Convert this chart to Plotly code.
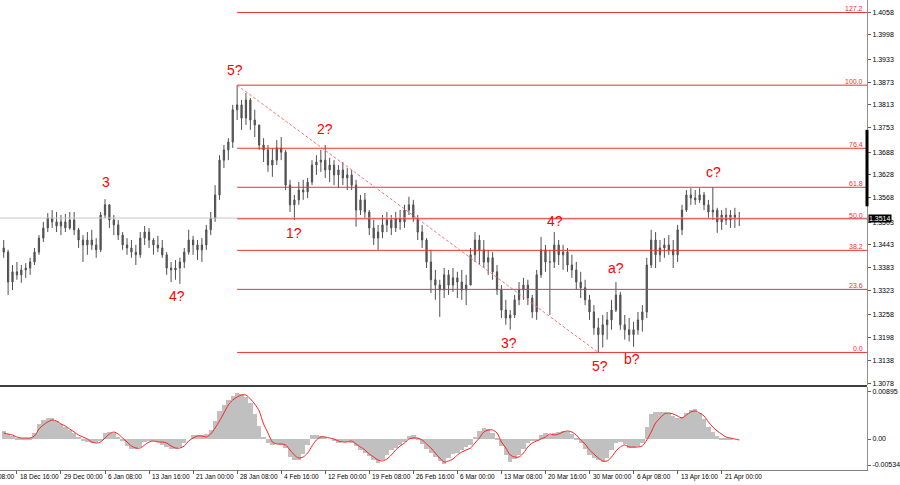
import plotly.graph_objects as go

# ---------------- data ----------------
bar_index = list(range(7, 175))
first_open = 1.3435
high = [
    1.3456, 1.3430, 1.3390, 1.3398, 1.3390, 1.3395, 1.3409, 1.3435, 1.3469, 1.3504,
    1.3527, 1.3535, 1.3530, 1.3522, 1.3525, 1.3530, 1.3530, 1.3488, 1.3469, 1.3477,
    1.3483, 1.3461, 1.3530, 1.3564, 1.3551, 1.3522, 1.3509, 1.3477, 1.3461, 1.3456,
    1.3443, 1.3477, 1.3493, 1.3488, 1.3461, 1.3467, 1.3456, 1.3424, 1.3398, 1.3403,
    1.3409, 1.3435, 1.3483, 1.3467, 1.3456, 1.3461, 1.3496, 1.3530, 1.3601, 1.3680,
    1.3707, 1.3725, 1.3813, 1.3865, 1.3826, 1.3844, 1.3831, 1.3800, 1.3760, 1.3725,
    1.3707, 1.3699, 1.3720, 1.3728, 1.3694, 1.3615, 1.3575, 1.3609, 1.3615, 1.3620,
    1.3667, 1.3680, 1.3694, 1.3707, 1.3673, 1.3667, 1.3654, 1.3662, 1.3646, 1.3641,
    1.3615, 1.3575, 1.3580, 1.3535, 1.3509, 1.3496, 1.3522, 1.3530, 1.3522, 1.3530,
    1.3535, 1.3549, 1.3570, 1.3562, 1.3522, 1.3496, 1.3461, 1.3430, 1.3377, 1.3351,
    1.3382, 1.3377, 1.3382, 1.3372, 1.3377, 1.3364, 1.3435, 1.3477, 1.3469, 1.3456,
    1.3430, 1.3424, 1.3390, 1.3337, 1.3298, 1.3271, 1.3311, 1.3345, 1.3356, 1.3351,
    1.3311, 1.3377, 1.3464, 1.3443, 1.3430, 1.3477, 1.3456, 1.3443, 1.3435, 1.3417,
    1.3398, 1.3372, 1.3351, 1.3311, 1.3284, 1.3250, 1.3258, 1.3266, 1.3298, 1.3345,
    1.3319, 1.3258, 1.3250, 1.3240, 1.3266, 1.3284, 1.3409, 1.3483, 1.3477, 1.3456,
    1.3461, 1.3469, 1.3456, 1.3496, 1.3549, 1.3588, 1.3593, 1.3588, 1.3593, 1.3583,
    1.3562, 1.3596, 1.3541, 1.3535, 1.3541, 1.3535, 1.3541, 1.3530,
]
low = [
    1.3409, 1.3311, 1.3324, 1.3351, 1.3343, 1.3356, 1.3364, 1.3390, 1.3417, 1.3451,
    1.3477, 1.3488, 1.3477, 1.3469, 1.3477, 1.3483, 1.3469, 1.3435, 1.3398, 1.3417,
    1.3430, 1.3409, 1.3424, 1.3514, 1.3488, 1.3469, 1.3456, 1.3430, 1.3417, 1.3409,
    1.3390, 1.3409, 1.3443, 1.3435, 1.3417, 1.3424, 1.3409, 1.3364, 1.3345, 1.3351,
    1.3340, 1.3382, 1.3417, 1.3417, 1.3403, 1.3398, 1.3430, 1.3469, 1.3504, 1.3562,
    1.3646, 1.3667, 1.3699, 1.3773, 1.3747, 1.3760, 1.3747, 1.3728, 1.3694, 1.3662,
    1.3636, 1.3623, 1.3654, 1.3667, 1.3588, 1.3530, 1.3509, 1.3549, 1.3562, 1.3567,
    1.3601, 1.3628, 1.3636, 1.3620, 1.3609, 1.3601, 1.3593, 1.3601, 1.3588, 1.3588,
    1.3491, 1.3522, 1.3514, 1.3469, 1.3443, 1.3430, 1.3461, 1.3477, 1.3469, 1.3477,
    1.3483, 1.3488, 1.3522, 1.3504, 1.3456, 1.3435, 1.3382, 1.3316, 1.3298, 1.3253,
    1.3303, 1.3311, 1.3319, 1.3303, 1.3298, 1.3284, 1.3337, 1.3398, 1.3390, 1.3382,
    1.3364, 1.3351, 1.3311, 1.3250, 1.3232, 1.3219, 1.3250, 1.3284, 1.3298, 1.3284,
    1.3250, 1.3245, 1.3356, 1.3372, 1.3258, 1.3382, 1.3390, 1.3377, 1.3372, 1.3356,
    1.3324, 1.3303, 1.3284, 1.3245, 1.3206, 1.3159, 1.3172, 1.3193, 1.3219, 1.3266,
    1.3219, 1.3193, 1.3188, 1.3174, 1.3206, 1.3214, 1.3250, 1.3382, 1.3382, 1.3398,
    1.3409, 1.3417, 1.3382, 1.3398, 1.3469, 1.3530, 1.3549, 1.3549, 1.3554, 1.3535,
    1.3514, 1.3509, 1.3475, 1.3483, 1.3496, 1.3488, 1.3488, 1.3493,
]
close = [
    1.3424, 1.3345, 1.3372, 1.3364, 1.3377, 1.3382, 1.3398, 1.3424, 1.3461, 1.3488,
    1.3514, 1.3504, 1.3493, 1.3504, 1.3488, 1.3509, 1.3483, 1.3456, 1.3443, 1.3456,
    1.3443, 1.3430, 1.3522, 1.3549, 1.3509, 1.3496, 1.3469, 1.3443, 1.3435, 1.3424,
    1.3417, 1.3461, 1.3477, 1.3456, 1.3443, 1.3435, 1.3417, 1.3382, 1.3377, 1.3382,
    1.3398, 1.3424, 1.3456, 1.3443, 1.3430, 1.3443, 1.3483, 1.3514, 1.3575, 1.3667,
    1.3694, 1.3715, 1.3800, 1.3813, 1.3778, 1.3826, 1.3773, 1.3760, 1.3707, 1.3694,
    1.3654, 1.3667, 1.3699, 1.3688, 1.3601, 1.3549, 1.3562, 1.3588, 1.3583, 1.3609,
    1.3654, 1.3662, 1.3667, 1.3641, 1.3654, 1.3628, 1.3641, 1.3620, 1.3628, 1.3601,
    1.3535, 1.3562, 1.3530, 1.3488, 1.3461, 1.3477, 1.3496, 1.3509, 1.3488, 1.3514,
    1.3504, 1.3535, 1.3549, 1.3514, 1.3477, 1.3456, 1.3398, 1.3351, 1.3337, 1.3324,
    1.3364, 1.3337, 1.3356, 1.3345, 1.3324, 1.3337, 1.3417, 1.3456, 1.3430, 1.3398,
    1.3409, 1.3372, 1.3324, 1.3271, 1.3250, 1.3258, 1.3298, 1.3324, 1.3337, 1.3303,
    1.3266, 1.3364, 1.3430, 1.3398, 1.3398, 1.3443, 1.3417, 1.3424, 1.3390, 1.3377,
    1.3345, 1.3330, 1.3298, 1.3266, 1.3224, 1.3206, 1.3232, 1.3245, 1.3271, 1.3311,
    1.3232, 1.3219, 1.3206, 1.3219, 1.3245, 1.3266, 1.3390, 1.3456, 1.3417, 1.3435,
    1.3443, 1.3430, 1.3417, 1.3483, 1.3535, 1.3575, 1.3567, 1.3562, 1.3575, 1.3549,
    1.3530, 1.3535, 1.3504, 1.3522, 1.3509, 1.3522, 1.3514, 1.3514,
]
macd_hist = [
    0.00152, 0.00095, 0.00057, 0.00019, 0.00019, 0.00019, 0.00019, 0.00114, 0.00286, 0.00362,
    0.00400, 0.00400, 0.00343, 0.00286, 0.00228, 0.00171, 0.00114, 0.00038, -0.00019, -0.00057,
    -0.00076, -0.00057, -0.00019, 0.00114, 0.00133, 0.00114, 0.00038, -0.00038, -0.00133, -0.00190,
    -0.00190, -0.00152, -0.00057, -0.00019, -0.00038, -0.00057, -0.00114, -0.00152, -0.00190, -0.00190,
    -0.00152, -0.00076, 0.0, 0.00076, 0.00076, 0.00076, 0.00095, 0.00171, 0.00343, 0.00533,
    0.00647, 0.00743, 0.00819, 0.00876, 0.00857, 0.00800, 0.00685, 0.00476, 0.00248, 0.00038,
    -0.00076, -0.00114, -0.00095, -0.00114, -0.00171, -0.00343, -0.00400, -0.00400, -0.00286, -0.00114,
    0.00076, 0.00076, 0.00057, 0.00038, 0.0, -0.00038, -0.00076, -0.00057, -0.00057, -0.00076,
    -0.00133, -0.00209, -0.00267, -0.00324, -0.00400, -0.00457, -0.00400, -0.00305, -0.00209, -0.00171,
    -0.00114, -0.00057, 0.00057, 0.00076, 0.00019, -0.00095, -0.00190, -0.00267, -0.00343, -0.00419,
    -0.00476, -0.00362, -0.00286, -0.00267, -0.00209, -0.00152, -0.00114, 0.00038, 0.00152, 0.00209,
    0.00190, 0.00114, 0.00019, -0.00133, -0.00305, -0.00438, -0.00381, -0.00305, -0.00190, -0.00076,
    -0.00019, -0.00019, 0.00076, 0.00114, 0.00076, 0.00114, 0.00133, 0.00152, 0.00133, 0.00095,
    0.00019, -0.00076, -0.00190, -0.00305, -0.00362, -0.00400, -0.00438, -0.00362, -0.00209, -0.00076,
    -0.00057, -0.00095, -0.00171, -0.00171, -0.00133, -0.00076, 0.00228, 0.00476, 0.00514, 0.00514,
    0.00514, 0.00495, 0.00438, 0.00400, 0.00419, 0.00495, 0.00552, 0.00571, 0.00495, 0.00381,
    0.00228, 0.00133, 0.00057, 0.00019, 0.00019, 0.00019, 0.0, 0.0,
]
macd_signal = [
    0.00114, 0.00095, 0.00076, 0.00038, 0.00019, 0.00019, 0.00019, 0.00057, 0.00190, 0.00267,
    0.00324, 0.00362, 0.00343, 0.00286, 0.00248, 0.00190, 0.00133, 0.00076, 0.00038, 0.0,
    -0.00057, -0.00076, -0.00057, 0.00019, 0.00095, 0.00133, 0.00095, 0.00019, -0.00057, -0.00133,
    -0.00171, -0.00171, -0.00114, -0.00057, -0.00038, -0.00057, -0.00057, -0.00076, -0.00133, -0.00171,
    -0.00171, -0.00133, -0.00038, 0.00019, 0.00057, 0.00057, 0.00038, 0.00095, 0.00209, 0.00343,
    0.00495, 0.00647, 0.00743, 0.00800, 0.00838, 0.00838, 0.00762, 0.00666, 0.00533, 0.00286,
    0.00114, -0.00057, -0.00095, -0.00095, -0.00114, -0.00209, -0.00305, -0.00362, -0.00343, -0.00267,
    -0.00133, -0.00019, 0.00038, 0.00038, 0.00019, 0.0, -0.00038, -0.00057, -0.00057, -0.00038,
    -0.00095, -0.00152, -0.00209, -0.00286, -0.00343, -0.00400, -0.00419, -0.00381, -0.00305, -0.00209,
    -0.00133, -0.00076, 0.0, 0.00019, 0.00019, -0.00019, -0.00095, -0.00171, -0.00267, -0.00362,
    -0.00438, -0.00419, -0.00381, -0.00305, -0.00248, -0.00209, -0.00171, -0.00076, 0.00019, 0.00133,
    0.00171, 0.00171, 0.00114, -0.00057, -0.00171, -0.00305, -0.00343, -0.00343, -0.00267, -0.00152,
    -0.00076, -0.00038, 0.0, 0.00038, 0.00095, 0.00076, 0.00095, 0.00133, 0.00152, 0.00133,
    0.00076, -0.00019, -0.00095, -0.00209, -0.00286, -0.00362, -0.00419, -0.00419, -0.00343, -0.00228,
    -0.00152, -0.00114, -0.00152, -0.00152, -0.00152, -0.00133, -0.00019, 0.00133, 0.00305, 0.00400,
    0.00476, 0.00495, 0.00476, 0.00438, 0.00400, 0.00457, 0.00514, 0.00533, 0.00495, 0.00438,
    0.00324, 0.00228, 0.00152, 0.00095, 0.00038, 0.00019, 0.0, -0.00019,
]

fib_high = 1.3865
fib_low = 1.3159
fib_start_bar = 60
fib_end_bar = 142
fib_levels = [0.0, 23.6, 38.2, 50.0, 61.8, 76.4, 100.0, 127.2]
current_price = 1.3514

price_ticks = [1.4058, 1.3998, 1.3933, 1.3873, 1.3813, 1.3753, 1.3688, 1.3628, 1.3568,
               1.3503, 1.3443, 1.3383, 1.3323, 1.3258, 1.3198, 1.3138, 1.3078]
osc_ticks = [0.00895, 0.0, -0.00495]
osc_tick_text = ["0.00895", "0.00", "-0.00534"]

date_tick_bars = [0, 10, 20, 30, 40, 50, 60, 70, 80, 90, 100, 110, 120, 130, 140, 150, 160, 170]
date_tick_labels = ["11 Dec 08:00", "18 Dec 16:00", "29 Dec 00:00", "6 Jan 08:00", "13 Jan 16:00",
                    "21 Jan 00:00", "28 Jan 08:00", "4 Feb 16:00", "12 Feb 00:00", "19 Feb 08:00",
                    "26 Feb 16:00", "6 Mar 00:00", "13 Mar 08:00", "20 Mar 16:00", "30 Mar 00:00",
                    "6 Apr 08:00", "13 Apr 16:00", "21 Apr 00:00"]

wave_texts = ["3", "4?", "5?", "1?", "2?", "3?", "4?", "5?", "a?", "b?", "c?"]
wave_bars = [30.3, 46.3, 59.4, 73.0, 80.0, 121.7, 132.1, 142.3, 146.1, 149.7, 168.2]
wave_prices = [1.3609, 1.3308, 1.3905, 1.3475, 1.3749, 1.3184, 1.3506, 1.3124, 1.3382, 1.3142, 1.3636]

# ---------------- figure ----------------
x_min, x_max = 6.16, 203.0
main_range = [1.3073, 1.4090]
osc_range = [-0.0059, 0.0099]
FONT = "Liberation Sans"
RED = "#f03030"

open_ = [first_open] + close[:-1]

fig = go.Figure()

# current price (bid) line
fig.add_trace(go.Scatter(x=[x_min, x_max], y=[current_price, current_price], mode="lines",
                         line=dict(color="#c8c8c8", width=1), hoverinfo="skip", showlegend=False))

# fibonacci levels
for lvl in fib_levels:
    p = fib_low + (fib_high - fib_low) * lvl / 100.0
    fig.add_trace(go.Scatter(x=[fib_start_bar, x_max], y=[p, p], mode="lines",
                             line=dict(color=RED, width=1), hoverinfo="skip", showlegend=False))

# trend line
fig.add_trace(go.Scatter(x=[fib_start_bar, fib_end_bar], y=[fib_high, fib_low], mode="lines",
                         line=dict(color="#ff7070", width=1, dash="3px,2px"),
                         hoverinfo="skip", showlegend=False))

# candles
fig.add_trace(go.Candlestick(
    x=bar_index, open=open_, high=high, low=low, close=close,
    increasing=dict(line=dict(color="#505050", width=1), fillcolor="#5a5a5a"),
    decreasing=dict(line=dict(color="#505050", width=1), fillcolor="#5a5a5a"),
    whiskerwidth=0, showlegend=False, xaxis="x", yaxis="y"))

# oscillator
fig.add_trace(go.Bar(x=bar_index, y=macd_hist, marker=dict(color="#c0c0c0", line=dict(width=0)),
                     width=1.0, xaxis="x", yaxis="y2", showlegend=False))
fig.add_trace(go.Scatter(x=bar_index, y=macd_signal, mode="lines",
                         line=dict(color="#ff2020", width=1, shape="spline", smoothing=0.8),
                         xaxis="x", yaxis="y2", showlegend=False))

annotations = []
# fib labels
for lvl in fib_levels:
    p = fib_low + (fib_high - fib_low) * lvl / 100.0
    annotations.append(dict(x=0.9975, xref="paper", y=p, yref="y", text=f"{lvl:.1f}",
                            xanchor="right", yanchor="bottom", showarrow=False, yshift=-2,
                            font=dict(family=FONT, size=7, color=RED)))
# wave labels
for t, b, p in zip(wave_texts, wave_bars, wave_prices):
    annotations.append(dict(x=b, y=p, xref="x", yref="y", text=t, showarrow=False,
                            font=dict(family=FONT, size=14, color="#ff0000")))
# date labels
for b, t in zip(date_tick_bars, date_tick_labels):
    px = (b - x_min) / (x_max - x_min)
    annotations.append(dict(x=px, xref="paper", y=0, yref="paper", text=t, showarrow=False,
                            xanchor="left", yanchor="top", xshift=1, yshift=-1,
                            font=dict(family=FONT, size=6.5, color="#000000")))
# current price box
annotations.append(dict(x=1, xref="paper", y=current_price, yref="y",
                        text=f"{current_price:.4f}", showarrow=False, xanchor="left", xshift=1,
                        bgcolor="#000000", borderpad=0,
                        font=dict(family=FONT, size=7, color="#ffffff")))

shapes = [
    dict(type="line", xref="paper", yref="paper", x0=0, x1=1, y0=0.1787, y1=0.1787,
         line=dict(color="#404040", width=2)),
    dict(type="line", xref="paper", yref="y", x0=1, x1=1, y0=1.3747, y1=1.3545,
         line=dict(color="#000000", width=3)),
]

fig.update_layout(
    width=900, height=485,
    margin=dict(l=0, r=28, t=0, b=15),
    paper_bgcolor="#ffffff", plot_bgcolor="#ffffff",
    showlegend=False, bargap=0, boxgap=0.6,
    font=dict(family=FONT, size=7, color="#000000"),
    annotations=annotations, shapes=shapes,
    xaxis=dict(range=[x_min, x_max], anchor="y2", tickvals=date_tick_bars, ticks="outside",
               ticklen=3, tickcolor="#606060", showticklabels=False, showgrid=False,
               zeroline=False, showline=True, linecolor="#808080", linewidth=1,
               rangeslider=dict(visible=False), fixedrange=True),
    yaxis=dict(domain=[0.18085, 1], range=main_range, side="right", anchor="x",
               tickvals=price_ticks, ticktext=[f"{v:.4f}" for v in price_ticks],
               ticks="outside", ticklen=3, tickcolor="#606060", showgrid=False, zeroline=False,
               showline=True, linecolor="#909090", linewidth=1,
               tickfont=dict(family=FONT, size=7, color="#000000")),
    yaxis2=dict(domain=[0, 0.1766], range=osc_range, side="right", anchor="x",
                tickvals=osc_ticks, ticktext=osc_tick_text, ticks="outside", ticklen=3,
                tickcolor="#606060", showgrid=False, zeroline=False, showline=True,
                linecolor="#909090", linewidth=1,
                tickfont=dict(family=FONT, size=7, color="#000000")),
)

fig.write_html("out.html", config={"displayModeBar": False},
               post_script="document.body.style.margin='0px';document.body.style.overflow='hidden';")
